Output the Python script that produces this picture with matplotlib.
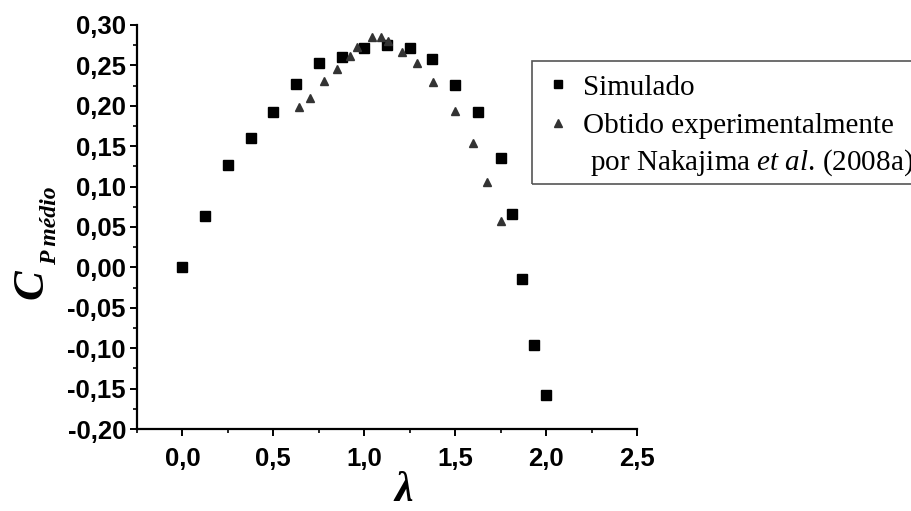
import matplotlib
matplotlib.use("Agg")
import matplotlib.pyplot as plt
from matplotlib.ticker import MultipleLocator, FuncFormatter
from matplotlib.lines import Line2D
from matplotlib.patches import Rectangle

plt.rcParams['mathtext.fontset'] = 'custom'
plt.rcParams['mathtext.rm'] = 'Liberation Serif'
plt.rcParams['mathtext.it'] = 'Liberation Serif:italic'

# simulated mean power coefficient vs tip speed ratio
lam_sim = [0.0, 0.125, 0.25, 0.375, 0.5, 0.625, 0.75, 0.875, 1.0, 1.125,
           1.25, 1.375, 1.5, 1.625, 1.75, 1.81, 1.87, 1.935, 2.0]
cp_sim = [0.000, 0.063, 0.127, 0.160, 0.192, 0.227, 0.253, 0.261, 0.272, 0.275,
          0.271, 0.258, 0.226, 0.192, 0.136, 0.066, -0.014, -0.096, -0.158]

# experimental values (Nakajima et al., 2008a)
lam_exp = [0.64, 0.70, 0.78, 0.85, 0.92, 0.96, 1.04, 1.09, 1.13, 1.21,
           1.29, 1.38, 1.50, 1.60, 1.675, 1.75]
cp_exp = [0.199, 0.210, 0.231, 0.246, 0.262, 0.273, 0.285, 0.285, 0.280, 0.267,
          0.253, 0.230, 0.193, 0.154, 0.106, 0.057]

legend_labels = ['Simulado', 'Obtido experimentalmente',
                 ' por Nakajima $\\mathit{et\\ al}$. (2008a)']

W, H = 912, 511
fig = plt.figure(figsize=(W / 100, H / 100), dpi=100)
ax = fig.add_axes([137 / W, 1 - 429 / H, 500 / W, 404 / H])

def fx(px):
    return px / W

def fy(py):
    return 1 - py / H

ax.plot(lam_sim, cp_sim, 's', color='black', ms=6.5, mec='black')
ax.plot(lam_exp, cp_exp, '^', color='#333333', ms=6, mec='#333333')

ax.set_xlim(-0.25, 2.5)
ax.set_ylim(-0.20, 0.30)
ax.spines['top'].set_visible(False)
ax.spines['right'].set_visible(False)
for s in ('left', 'bottom'):
    ax.spines[s].set_linewidth(1.6)

ax.xaxis.set_major_locator(MultipleLocator(0.5))
ax.xaxis.set_minor_locator(MultipleLocator(0.25))
ax.yaxis.set_major_locator(MultipleLocator(0.05))
ax.yaxis.set_minor_locator(MultipleLocator(0.025))
ax.xaxis.set_major_formatter(FuncFormatter(lambda v, p: f"{v:.1f}".replace('.', ',')))
ax.yaxis.set_major_formatter(FuncFormatter(lambda v, p: f"{v:.2f}".replace('.', ',').replace('-0,00', '0,00')))
ax.tick_params(which='major', direction='out', length=5, width=1.4)
ax.tick_params(which='minor', direction='out', length=3, width=1.2)
ax.tick_params(axis='x', pad=8)
ax.tick_params(axis='y', pad=3)
for lbl in ax.get_xticklabels() + ax.get_yticklabels():
    lbl.set_fontfamily('Liberation Sans')
    lbl.set_fontweight('bold')
    lbl.set_fontsize(18.5)

# axis titles
fig.text(fx(31), fy(284), 'C', rotation=90, ha='center', va='center',
         family='Liberation Serif', weight='bold', style='italic', fontsize=32)
fig.text(fx(51), fy(226), 'P médio', rotation=90, ha='center', va='center',
         family='Liberation Serif', weight='bold', style='italic', fontsize=17)
fig.text(fx(404), fy(510), 'λ', ha='center', va='bottom',
         family='Liberation Serif', weight='bold', style='italic', fontsize=30)

# legend box, running off the right edge
fig.add_artist(Rectangle((fx(532), fy(184)), fx(400), 123 / H, transform=fig.transFigure,
                         fill=False, edgecolor='#555555', lw=1.2))
fig.add_artist(Line2D([fx(558)], [fy(84)], ls='none', marker='s', color='black',
                      ms=6, transform=fig.transFigure))
fig.add_artist(Line2D([fx(558)], [fy(123)], ls='none', marker='^', color='#333333',
                      ms=6, transform=fig.transFigure))
for lbl, base in zip(legend_labels, [95, 133, 170]):
    fig.text(fx(583), fy(base), lbl, ha='left', va='baseline',
             family='Liberation Serif', fontsize=21)

fig.savefig('out.png', dpi=100)
